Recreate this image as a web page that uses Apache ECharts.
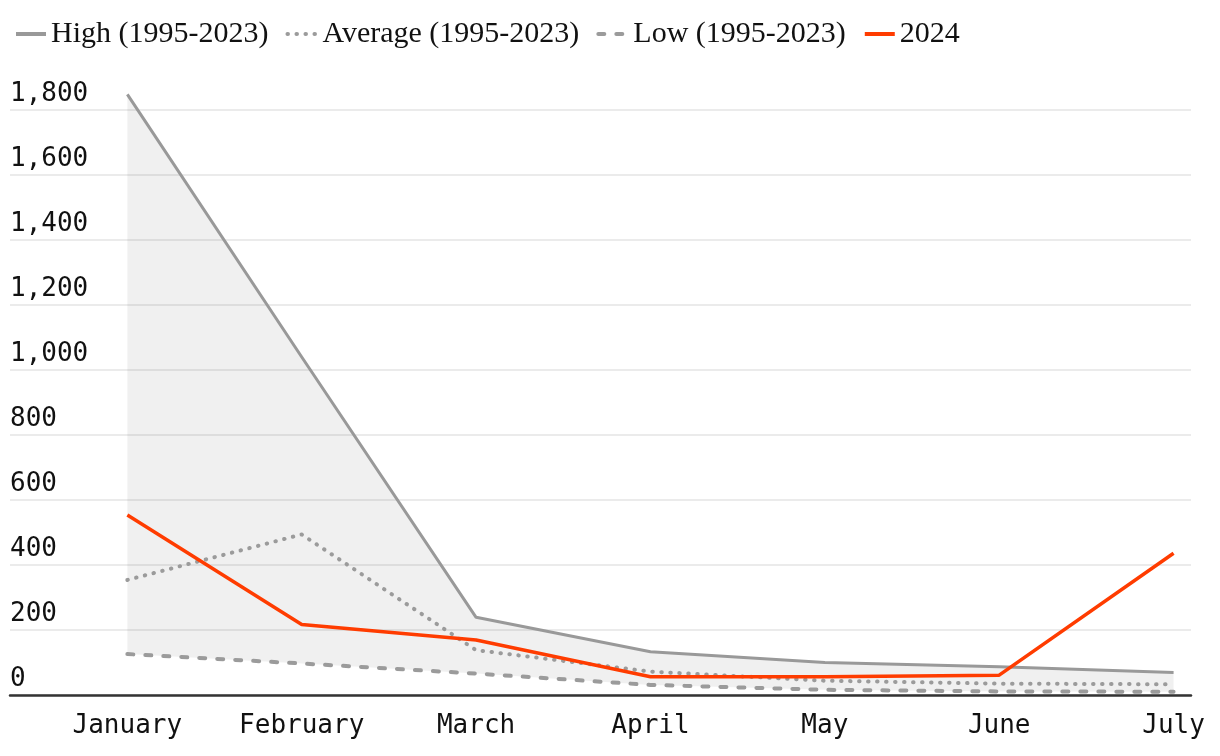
<!DOCTYPE html>
<html>
<head>
<meta charset="utf-8">
<script src="https://cdn.jsdelivr.net/npm/echarts@6/dist/echarts.min.js"></script>
<style>
html,body{margin:0;padding:0;background:#fff;}
#chart{width:1220px;height:756px;}
</style>
</head>
<body>
<div id="chart"></div>
<script>
const months = ['January','February','March','April','May','June','July'];
const high = [1848, 1040, 239, 133, 100, 87, 69];
const average = [354, 494, 138, 72, 44, 35, 33];
const low = [126, 97, 66, 31, 16, 11, 10];
const y2024 = [554, 217, 169, 56, 56, 61, 436];
const yTicks = [0, 200, 400, 600, 800, 1000, 1200, 1400, 1600, 1800];

const pairs = arr => arr.map((v, i) => [i, v]);
// value first so the stack works on the y value
const valFirst = arr => arr.map((v, i) => [v, i]);
const bandSpan = high.map((v, i) => v - low[i]);
const monoFont = 'DejaVu Sans Mono';

const chart = echarts.init(document.getElementById('chart'));
chart.setOption({
  animation: false,
  backgroundColor: '#fff',
  legend: {
    data: ['High (1995-2023)', 'Average (1995-2023)', 'Low (1995-2023)', '2024'],
    left: 9, top: 14,
    itemWidth: 30, itemHeight: 14, itemGap: 17,
    itemStyle: { opacity: 0 },
    lineStyle: { width: 4 },
    textStyle: { fontFamily: 'Liberation Serif', fontSize: 30, color: '#111', padding: [0,0,0,0] }
  },
  grid: { left: 10, right: 29, top: 110, bottom: 61 },
  xAxis: {
    type: 'value',
    min: -0.673, max: 6.1,
    axisLine: { show: true, onZero: false, lineStyle: { color: '#333', width: 2.5 } },
    axisTick: { show: false },
    splitLine: { show: false },
    axisLabel: {
      customValues: months.map((m, i) => i),
      formatter: v => months[Math.round(v)] || '',
      fontFamily: monoFont, fontSize: 26, color: '#111', margin: 18
    }
  },
  yAxis: {
    type: 'value',
    min: 0, max: 1800, interval: 200,
    axisLine: { show: false },
    axisTick: { show: false },
    splitLine: { lineStyle: { color: '#e4e4e4', width: 1.5 } },
    axisLabel: {
      inside: true, margin: 0, align: 'left', verticalAlign: 'bottom',
      padding: [0, 0, 3, 0],
      fontFamily: monoFont, fontSize: 26, color: '#111',
      formatter: v => yTicks.indexOf(v) >= 0 ? v.toLocaleString('en-US') : ''
    }
  },
  series: [
    { name: 'base', type: 'line', stack: 'band', data: valFirst(low), encode: { x: 1, y: 0 },
      symbol: 'none', lineStyle: { opacity: 0 }, silent: true, clip: false, z: 1 },
    { name: 'band', type: 'line', stack: 'band', data: valFirst(bandSpan), encode: { x: 1, y: 0 },
      symbol: 'none', lineStyle: { opacity: 0 }, areaStyle: { color: 'rgba(0,0,0,0.06)', opacity: 1 },
      silent: true, clip: false, z: 1 },
    { name: 'Low (1995-2023)', type: 'line', data: pairs(low), symbol: 'none', z: 3,
      itemStyle: { color: '#9b9b9b' },
      lineStyle: { color: '#9b9b9b', width: 4, type: [6, 12], cap: 'round' } },
    { name: 'Average (1995-2023)', type: 'line', data: pairs(average), symbol: 'none', z: 3,
      itemStyle: { color: '#9b9b9b' },
      lineStyle: { color: '#9b9b9b', width: 4, type: [0.5, 8.5], cap: 'round' } },
    { name: 'High (1995-2023)', type: 'line', data: pairs(high), symbol: 'none', z: 3, clip: false,
      itemStyle: { color: '#999' },
      lineStyle: { color: '#999', width: 3 } },
    { name: '2024', type: 'line', data: pairs(y2024), symbol: 'none', z: 4,
      itemStyle: { color: '#ff3c00' },
      lineStyle: { color: '#ff3c00', width: 3.5 } }
  ]
});
</script>
</body>
</html>
